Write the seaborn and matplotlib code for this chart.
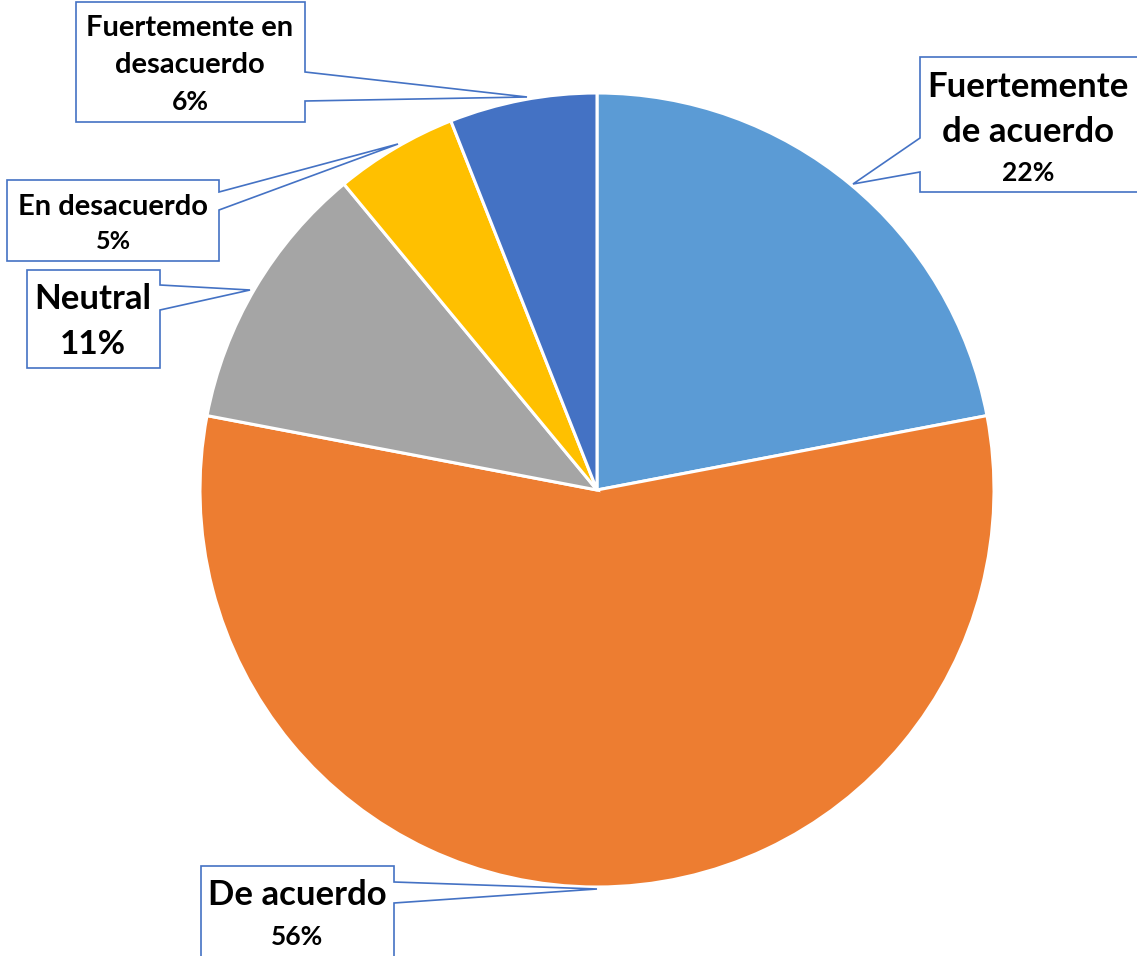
import matplotlib
matplotlib.use("Agg")
import matplotlib.pyplot as plt
from matplotlib.patches import Polygon
import seaborn as sns

categories = ["Fuertemente de acuerdo", "De acuerdo", "Neutral", "En desacuerdo", "Fuertemente en desacuerdo"]
values = [22, 56, 11, 5, 6]
label_lines = [["Fuertemente", "de acuerdo"], ["De acuerdo"], ["Neutral"], ["En desacuerdo"], ["Fuertemente en", "desacuerdo"]]
colors = ["#5B9BD5", "#ED7D31", "#A5A5A5", "#FFC000", "#4472C4"]

sns.set_theme(style="white")
plt.rcParams["font.family"] = ["Lato", "DejaVu Sans"]

W, H = 1137, 956
def fy(y):
    # layout numbers are pixels from the top of the image
    return H - y

fig = plt.figure(figsize=(W / 100, H / 100), dpi=100)
ax = fig.add_axes([0, 0, 1, 1])
ax.pie(values, colors=colors, startangle=90, counterclock=False,
       center=(597, fy(490)), radius=397,
       wedgeprops=dict(edgecolor="white", linewidth=2.2))
ax.set_xlim(0, W)
ax.set_ylim(0, H)
ax.set_aspect("equal")
ax.axis("off")

# callout boxes: box (x0, y0, x1, y1), side of notch, notch y range, tip, text lines (x, y, size)
callouts = [
    dict(box=(920, 57, 1150, 192), side="left", notch=(138, 172), tip=(853, 184),
         cx=1028, ys=[87, 132, 173], sizes=[25, 25, 19]),
    dict(box=(201, 866, 394, 975), side="right", notch=(882, 903), tip=(597, 889),
         cx=297, ys=[895, 937], sizes=[25, 19]),
    dict(box=(27, 270, 160, 368), side="right", notch=(285, 310), tip=(250, 290),
         cx=93, ys=[299, 344], sizes=[25, 24]),
    dict(box=(7, 180, 219, 261), side="right", notch=(192, 210), tip=(398, 144),
         cx=113, ys=[207, 241], sizes=[21, 18]),
    dict(box=(76, 2, 305, 122), side="right", notch=(72, 101), tip=(527, 97),
         cx=190, ys=[28, 65, 102], sizes=[21, 21, 19]),
]

for lines, v, c in zip(label_lines, values, callouts):
    x0, y0, x1, y1 = c["box"]
    n0, n1 = c["notch"]
    tx, ty = c["tip"]
    if c["side"] == "right":
        pts = [(x0, y0), (x1, y0), (x1, n0), (tx, ty), (x1, n1), (x1, y1), (x0, y1)]
    else:
        pts = [(x0, y0), (x1, y0), (x1, y1), (x0, y1), (x0, n1), (tx, ty), (x0, n0)]
    pts = [(px, fy(py)) for px, py in pts]
    ax.add_patch(Polygon(pts, closed=True, facecolor="white", edgecolor="#4472C4",
                         linewidth=1.2, zorder=3))
    texts = lines + [f"{v}%"]
    for t, y, s in zip(texts, c["ys"], c["sizes"]):
        ax.text(c["cx"], fy(y), t, ha="center", va="center", fontsize=s,
                fontweight="bold", color="black", zorder=4)

fig.savefig("out.png", dpi=100, facecolor="white")
